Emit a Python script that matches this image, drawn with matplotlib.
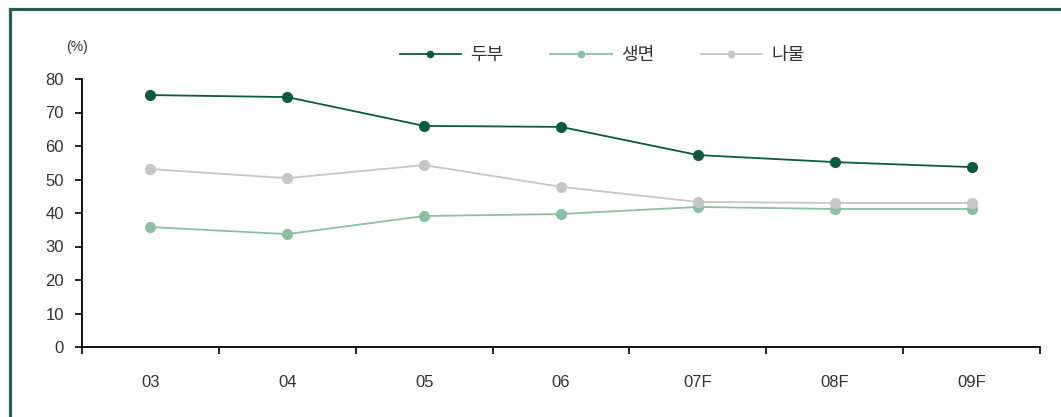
import matplotlib
matplotlib.use("Agg")
import matplotlib.pyplot as plt
from matplotlib.patches import Rectangle
import numpy as np

plt.rcParams['font.family'] = ['Liberation Sans', 'Noto Sans CJK KR', 'DejaVu Sans']

# data
years = ["03", "04", "05", "06", "07F", "08F", "09F"]
tofu = [75.2, 74.6, 66.0, 65.7, 57.3, 55.2, 53.7]        # 두부
noodle = [35.8, 33.7, 39.1, 39.7, 41.8, 41.2, 41.2]      # 생면
namul = [53.1, 50.4, 54.3, 47.8, 43.3, 43.0, 43.0]       # 나물
series_names = ["두부", "생면", "나물"]
series_colors = ["#0d5a40", "#8cbfa4", "#c6c6c6"]

W, H = 1061, 417
fig = plt.figure(figsize=(W / 100, H / 100), dpi=100)

# dark teal frame, cut off at right/bottom like the screenshot
fig.patches.append(Rectangle((9.5 / W, -0.2), 1.3, 1 - 9.5 / H + 0.2,
                             transform=fig.transFigure, fill=False,
                             edgecolor="#2b5c50", linewidth=2.3))

ax = fig.add_axes([82 / W, 70 / H, (1040 - 82) / W, (347 - 79) / H])

x = np.arange(len(years))
for vals, name, col in zip([tofu, noodle, namul], series_names, series_colors):
    ax.plot(x, vals, color=col, linewidth=1.3, marker="o", markersize=7,
            markeredgecolor=col, label=name)

ax.set_xlim(-0.5, len(years) - 0.5)
ax.set_ylim(0, 80)
ax.set_yticks(np.arange(0, 81, 10))
ax.set_xticks(x)
ax.set_xticklabels(years)
ax.set_xticks(np.arange(-0.5, len(years), 1.0), minor=True)

ax.tick_params(axis="x", which="major", length=0, pad=20, labelsize=12, labelcolor="#333333")
ax.tick_params(axis="x", which="minor", length=5, width=1.2, direction="out")
ax.tick_params(axis="y", length=5, width=1.2, direction="out", pad=8,
               labelsize=12, labelcolor="#333333")

for s in ["top", "right"]:
    ax.spines[s].set_visible(False)
for s in ["left", "bottom"]:
    ax.spines[s].set_linewidth(1.3)

fig.text(66 / W, 1 - 47 / H, "(%)", fontsize=10, color="#333333", va="center")

leg = ax.legend(loc="center", bbox_to_anchor=(602 / W, 1 - 55 / H),
                bbox_transform=fig.transFigure, ncol=3, frameon=False,
                handlelength=3.4, columnspacing=2.6, handletextpad=0.5,
                prop={"family": ["Noto Sans CJK KR"], "size": 13})
for h in leg.legend_handles:
    h.set_markersize(4.5)
for t in leg.get_texts():
    t.set_color("#333333")

fig.savefig("out.png", dpi=100, facecolor="white")
